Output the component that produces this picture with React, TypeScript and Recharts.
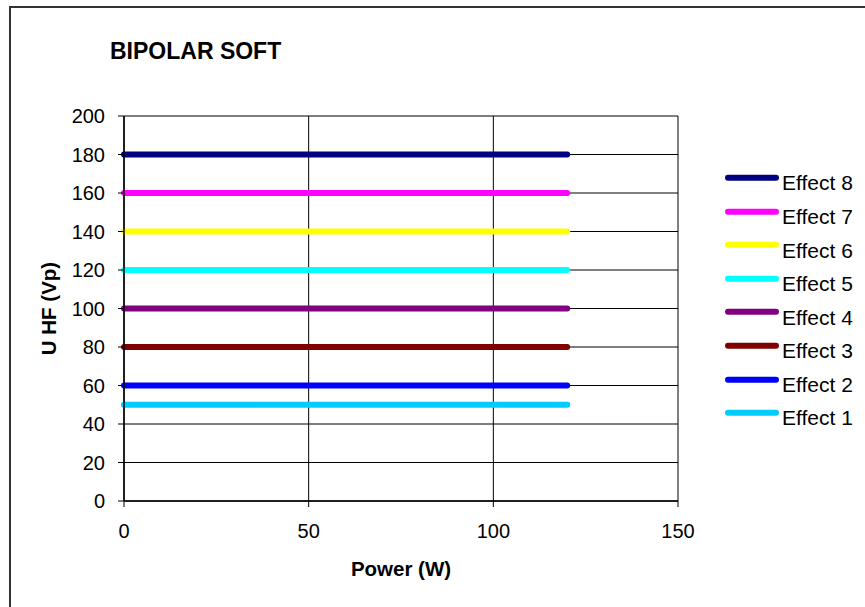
import React from 'react';
import { LineChart, Line, XAxis, YAxis, CartesianGrid, Label } from 'recharts';

const powerValues = [0, 120];
const seriesNames = ['Effect 1', 'Effect 2', 'Effect 3', 'Effect 4', 'Effect 5', 'Effect 6', 'Effect 7', 'Effect 8'];
const seriesLevels = [50, 60, 80, 100, 120, 140, 160, 180];
const seriesColors = ['#00CCFF', '#0000FF', '#800000', '#800080', '#00FFFF', '#FFFF00', '#FF00FF', '#000080'];
const yTicks = [0, 20, 40, 60, 80, 100, 120, 140, 160, 180, 200];
const xTicks = [0, 50, 100, 150];

const chartTitle = 'BIPOLAR SOFT';
const xTitle = 'Power (W)';
const yTitle = 'U HF (Vp)';

const FONT = '"Liberation Sans", Arial, Helvetica, sans-serif';

const data = powerValues.map((p) => {
  const row: Record<string, number> = { power: p };
  seriesNames.forEach((n, i) => {
    row[n] = seriesLevels[i];
  });
  return row;
});

const legendOrder = seriesNames.map((n, i) => ({ name: n, color: seriesColors[i] })).reverse();

export default function App() {
  return (
    <div
      style={{
        position: 'absolute',
        left: 0,
        top: 0,
        width: 865,
        height: 607,
        overflow: 'hidden',
        background: '#fff',
        fontFamily: FONT,
      }}
    >
      <div
        style={{
          position: 'absolute',
          left: 110,
          top: 61 - 21,
          fontSize: 23,
          fontWeight: 'bold',
          lineHeight: '23px',
          color: '#000',
          whiteSpace: 'nowrap',
        }}
      >
        {chartTitle}
      </div>
      <div style={{ position: 'absolute', left: 0, top: 0 }}>
        <LineChart
          width={865}
          height={607}
          data={data}
          margin={{ top: 116, right: 187, left: 0, bottom: 0 }}
        >
          <CartesianGrid stroke="#000" strokeWidth={1} horizontalValues={yTicks} verticalValues={xTicks} />
          <XAxis
            dataKey="power"
            type="number"
            domain={[0, 150]}
            ticks={xTicks}
            height={106}
            tickSize={6}
            tickMargin={17}
            axisLine={{ stroke: '#000', strokeWidth: 1.5 }}
            tickLine={{ stroke: '#000' }}
            tick={{ fill: '#000', fontSize: 20, fontFamily: FONT }}
            interval={0}
          >
            <Label
              content={(props: any) => {
                const vb = props.viewBox || { x: 124, y: 501, width: 554 };
                return (
                  <text
                    x={vb.x + vb.width / 2}
                    y={vb.y + 75}
                    textAnchor="middle"
                    fontSize={20.5}
                    fontWeight="bold"
                    fontFamily={FONT}
                    fill="#000"
                  >
                    {xTitle}
                  </text>
                );
              }}
            />
          </XAxis>
          <YAxis
            type="number"
            domain={[0, 200]}
            ticks={yTicks}
            width={124}
            tickSize={6}
            tickMargin={13}
            axisLine={{ stroke: '#000', strokeWidth: 1.5 }}
            tickLine={{ stroke: '#000' }}
            tick={{ fill: '#000', fontSize: 20, fontFamily: FONT }}
            interval={0}
          >
            <Label
              content={(props: any) => {
                const vb = props.viewBox || { x: 0, y: 116, height: 385 };
                const cx = vb.x + 55.5;
                const cy = vb.y + vb.height / 2;
                return (
                  <text
                    x={cx}
                    y={cy}
                    transform={`rotate(-90 ${cx} ${cy})`}
                    textAnchor="middle"
                    fontSize={20.5}
                    fontWeight="bold"
                    fontFamily={FONT}
                    fill="#000"
                  >
                    {yTitle}
                  </text>
                );
              }}
            />
          </YAxis>
          {seriesNames.map((n, i) => (
            <Line
              key={n}
              dataKey={n}
              name={n}
              type="linear"
              stroke={seriesColors[i]}
              strokeWidth={6}
              strokeLinecap="round"
              dot={false}
              activeDot={false}
              isAnimationActive={false}
            />
          ))}
        </LineChart>
      </div>
      <div style={{ position: 'absolute', left: 725, top: 178 - 16.785 }}>
        {legendOrder.map((item) => (
          <div key={item.name} style={{ position: 'relative', height: 33.57, width: 130 }}>
            <svg width={56} height={33.57} style={{ position: 'absolute', left: 0, top: 0 }}>
              <line x1={3} y1={16.785} x2={51} y2={16.785} stroke={item.color} strokeWidth={6} strokeLinecap="round" />
            </svg>
            <div
              style={{
                position: 'absolute',
                left: 57,
                top: 16.785 - 5.5,
                fontSize: 21,
                lineHeight: '21px',
                color: '#000',
                whiteSpace: 'nowrap',
              }}
            >
              {item.name}
            </div>
          </div>
        ))}
      </div>
      <div
        style={{
          position: 'absolute',
          left: 9,
          top: 6,
          width: 1000,
          height: 1000,
          borderLeft: '2px solid #333',
          borderTop: '2px solid #333',
          boxSizing: 'border-box',
          pointerEvents: 'none',
          zIndex: 5,
        }}
      />
    </div>
  );
}
